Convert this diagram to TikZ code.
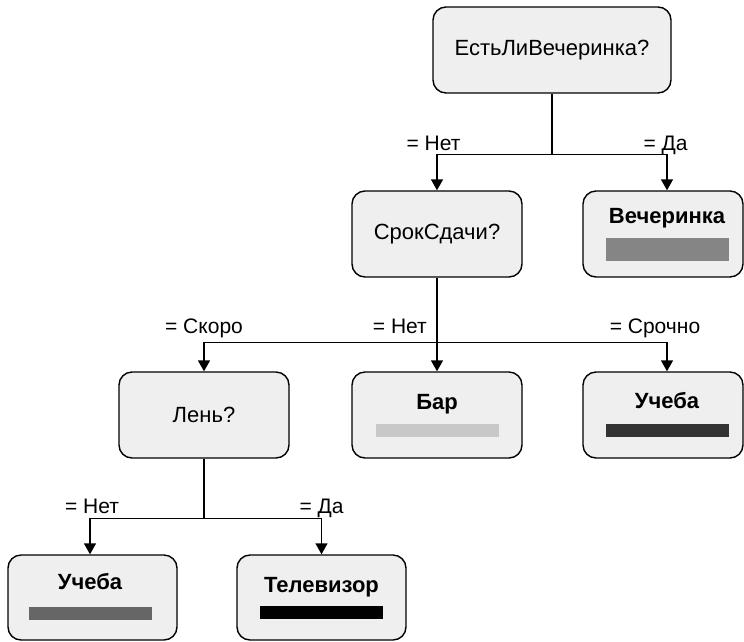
\documentclass[tikz,border=0pt]{standalone}
\usepackage{fontspec}
\setmainfont{Liberation Sans}
\usetikzlibrary{arrows.meta}

\definecolor{boxfill}{HTML}{EFEFEF}
\definecolor{partygrey}{HTML}{858585}
\definecolor{bargrey}{HTML}{C8C8C8}
\definecolor{studydark}{HTML}{333333}
\definecolor{studygrey}{HTML}{666666}
\definecolor{tvblack}{HTML}{000000}

\begin{document}
\begin{tikzpicture}[x=1pt,y=-1pt,
    every node/.style={font=\fontsize{22}{26}\selectfont},
    decision/.style={draw, line width=1.4pt, rounded corners=13pt, fill=boxfill,
      minimum height=86pt, inner sep=0pt},
    leaf/.style={decision},
    verdict/.style={font=\fontsize{22}{26}\selectfont\bfseries, anchor=base, inner sep=0pt},
    marker/.style={minimum width=123pt, minimum height=13pt, inner sep=0pt},
    cond/.style={font=\fontsize{21}{24}\selectfont, anchor=base, inner sep=0pt},
    link/.style={line width=1.4pt, -{Triangle[width=12pt,length=11pt]}}]
  \useasboundingbox (0,0) rectangle (744,641);

  \node[decision, minimum width=238pt] (partyq) at (552,50) {ЕстьЛиВечеринка?};
  \node[decision, minimum width=170pt] (deadline) at (437,234) {СрокСдачи?};
  \node[leaf, minimum width=160pt] (party) at (663,234) {};
  \node[decision, minimum width=170pt] (lazy) at (204,415) {Лень?};
  \node[leaf, minimum width=170pt] (bar) at (437,415) {};
  \node[leaf, minimum width=160pt] (study) at (663,415) {};
  \node[leaf, minimum width=169pt, minimum height=85pt] (study2) at (92.5,597.5) {};
  \node[leaf, minimum width=169pt, minimum height=85pt] (tv) at (321.5,597.5) {};

  \node[verdict] (party-text) at ([xshift=4pt,yshift=11pt]party.center) {Вечеринка};
  \node[marker, fill=partygrey, minimum height=23pt] (party-bar) at ([xshift=4pt,yshift=-15.5pt]party.center) {};
  \node[verdict] (bar-text) at ([yshift=6pt]bar.center) {Бар};
  \node[marker, fill=bargrey] (bar-bar) at ([yshift=-15.5pt]bar.center) {};
  \node[verdict] (study-text) at ([xshift=4pt,yshift=7pt]study.center) {Учеба};
  \node[marker, fill=studydark] (study-bar) at ([xshift=4pt,yshift=-15.5pt]study.center) {};
  \node[verdict] (study2-text) at ([xshift=-2.5pt,yshift=8pt]study2.center) {Учеба};
  \node[marker, fill=studygrey] (study2-bar) at ([xshift=-2.5pt,yshift=-15.5pt]study2.center) {};
  \node[verdict] (tv-text) at ([yshift=5pt]tv.center) {Телевизор};
  \node[marker, fill=tvblack] (tv-bar) at ([yshift=-15pt]tv.center) {};

  \draw[link] (partyq.south) -- ++(0,61) coordinate (fork1)
    -| node[cond, pos=.5, xshift=-3.5pt, yshift=4pt] (partyq-no) {= Нет} (deadline.north);
  \draw[link] (fork1)
    -| node[cond, pos=.5, xshift=-1.5pt, yshift=4pt] (partyq-yes) {= Да} ([xshift=4pt]party.north);

  \draw[link] (deadline.south) -- ++(0,65) coordinate (fork2) -- (bar.north);
  \node[cond, anchor=base east] (deadline-no) at ([xshift=-10pt,yshift=9pt]fork2) {= Нет};
  \draw[link] (fork2)
    -| node[cond, pos=.5, yshift=9pt] (deadline-soon) {= Скоро} (lazy.north);
  \draw[link] (fork2)
    -| node[cond, pos=.5, xshift=-12pt, yshift=9pt] (deadline-urgent) {= Срочно} ([xshift=4pt]study.north);

  \draw[link] (lazy.south) -- ++(0,60) coordinate (fork3)
    -| node[cond, pos=.5, xshift=2pt, yshift=5pt] (lazy-no) {= Нет} ([xshift=-2.5pt]study2.north);
  \draw[link] (fork3)
    -| node[cond, pos=.5, yshift=5pt] (lazy-yes) {= Да} (tv.north);
\end{tikzpicture}
\end{document}
